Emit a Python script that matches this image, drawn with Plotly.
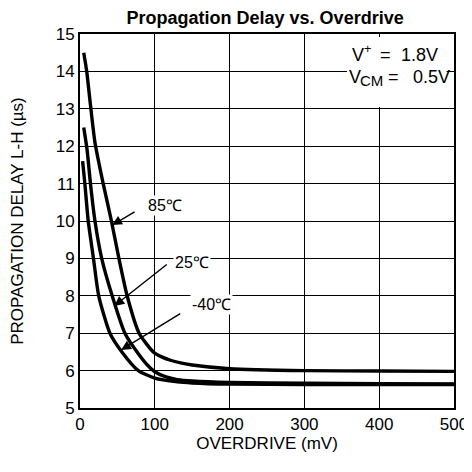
import plotly.graph_objects as go

# Data
x_85 = [5, 9, 14, 20, 31, 42, 52, 63, 79, 98, 110, 122, 136, 150, 200, 300, 400, 500]
y_85 = [14.5, 14.0, 13.1, 12.1, 11.0, 10.0, 9.0, 8.0, 7.0, 6.5, 6.36, 6.27, 6.2, 6.15, 6.05, 6.0, 5.99, 5.98]

x_25 = [5, 9.5, 14, 20, 29, 43, 60, 78, 90, 100, 115, 130, 150, 200, 300, 400, 500]
y_25 = [12.5, 11.9, 11.0, 10.0, 9.0, 8.0, 7.0, 6.45, 6.15, 5.97, 5.83, 5.76, 5.72, 5.68, 5.66, 5.65, 5.64]

x_m40 = [3.5, 6.5, 11, 18, 25, 40, 56, 78, 100, 130, 150, 200, 300, 400, 500]
y_m40 = [11.6, 11.0, 10.0, 9.0, 8.0, 7.0, 6.5, 6.0, 5.8, 5.7, 5.67, 5.64, 5.63, 5.63, 5.63]

x_ticks = [0, 100, 200, 300, 400, 500]
y_ticks = [5, 6, 7, 8, 9, 10, 11, 12, 13, 14, 15]

FONT = "Liberation Sans, Arial, sans-serif"

fig = go.Figure()
for xs, ys in [(x_85, y_85), (x_25, y_25), (x_m40, y_m40)]:
    fig.add_trace(go.Scatter(x=xs, y=ys, mode="lines",
                             line=dict(color="black", width=3.4, shape="spline", smoothing=0.6),
                             showlegend=False, hoverinfo="skip"))

# Temperature labels with arrows: text, text x, text y, head x, head y, tail x, tail y
labels = [
    ("85℃", 113, 10.41, 43, 9.89, 75, 10.27),
    ("25℃", 150, 8.9, 46, 7.73, 118, 8.87),
    ("-40℃", 176, 7.78, 55, 6.55, 136, 7.55),
]
for txt, tx, ty, hx, hy, sx, sy in labels:
    fig.add_annotation(x=hx, y=hy, ax=sx, ay=sy, xref="x", yref="y", axref="x", ayref="y",
                       text="", showarrow=True, arrowhead=2, arrowsize=1.4, arrowwidth=1.4,
                       arrowcolor="black")
    fig.add_annotation(x=tx, y=ty, xref="x", yref="y", text=txt, showarrow=False,
                       font=dict(family=FONT, size=16, color="black"), bgcolor="white",
                       borderpad=1)

# white box behind the condition text
fig.add_shape(type="rect", xref="x", yref="y", x0=357, x1=490, y0=13.05, y1=14.92,
              fillcolor="white", line=dict(width=0), layer="above")
cond_parts = [
    ("V<sup>+</sup>", 361, 14.47, "left", 18),
    ("=", 409, 14.43, "center", 18),
    ("1.8V", 481, 14.43, "right", 18),
    ("V", 357, 13.86, "left", 18),
    ("CM", 372, 13.77, "left", 15),
    ("=", 419, 13.86, "center", 18),
    ("0.5V", 497, 13.86, "right", 18),
]
for txt, px, py, anc, sz in cond_parts:
    fig.add_annotation(x=px, y=py, xref="x", yref="y", xanchor=anc, text=txt,
                       showarrow=False, font=dict(family=FONT, size=sz, color="black"))

fig.update_layout(
    width=464, height=464,
    margin=dict(l=72, r=18, t=26, b=64),
    paper_bgcolor="white", plot_bgcolor="white",
    title=dict(text="<b>Propagation Delay vs. Overdrive</b>", x=0.495, xref="paper", xanchor="center",
               y=0.979, yanchor="middle", font=dict(family=FONT, size=18, color="black")),
    font=dict(family=FONT, color="black"),
)
fig.update_xaxes(range=[0, 500], tickvals=x_ticks, ticktext=[str(v) for v in x_ticks],
                 showgrid=True, gridcolor="black", gridwidth=1, zeroline=False,
                 showline=True, linecolor="black", linewidth=2, mirror=True,
                 ticks="", tickfont=dict(family=FONT, size=17), automargin=False,
                 title=dict(text="OVERDRIVE (mV)", font=dict(family=FONT, size=17), standoff=2))
fig.update_yaxes(range=[5, 15], tickvals=y_ticks, ticktext=[str(v) for v in y_ticks],
                 showgrid=True, gridcolor="black", gridwidth=1, zeroline=False,
                 showline=True, linecolor="black", linewidth=2, mirror=True,
                 ticks="", tickfont=dict(family=FONT, size=17), automargin=False,
                 title=dict(text="PROPAGATION DELAY L-H (µs)", font=dict(family=FONT, size=17), standoff=34))

fig.write_html("out.html")
